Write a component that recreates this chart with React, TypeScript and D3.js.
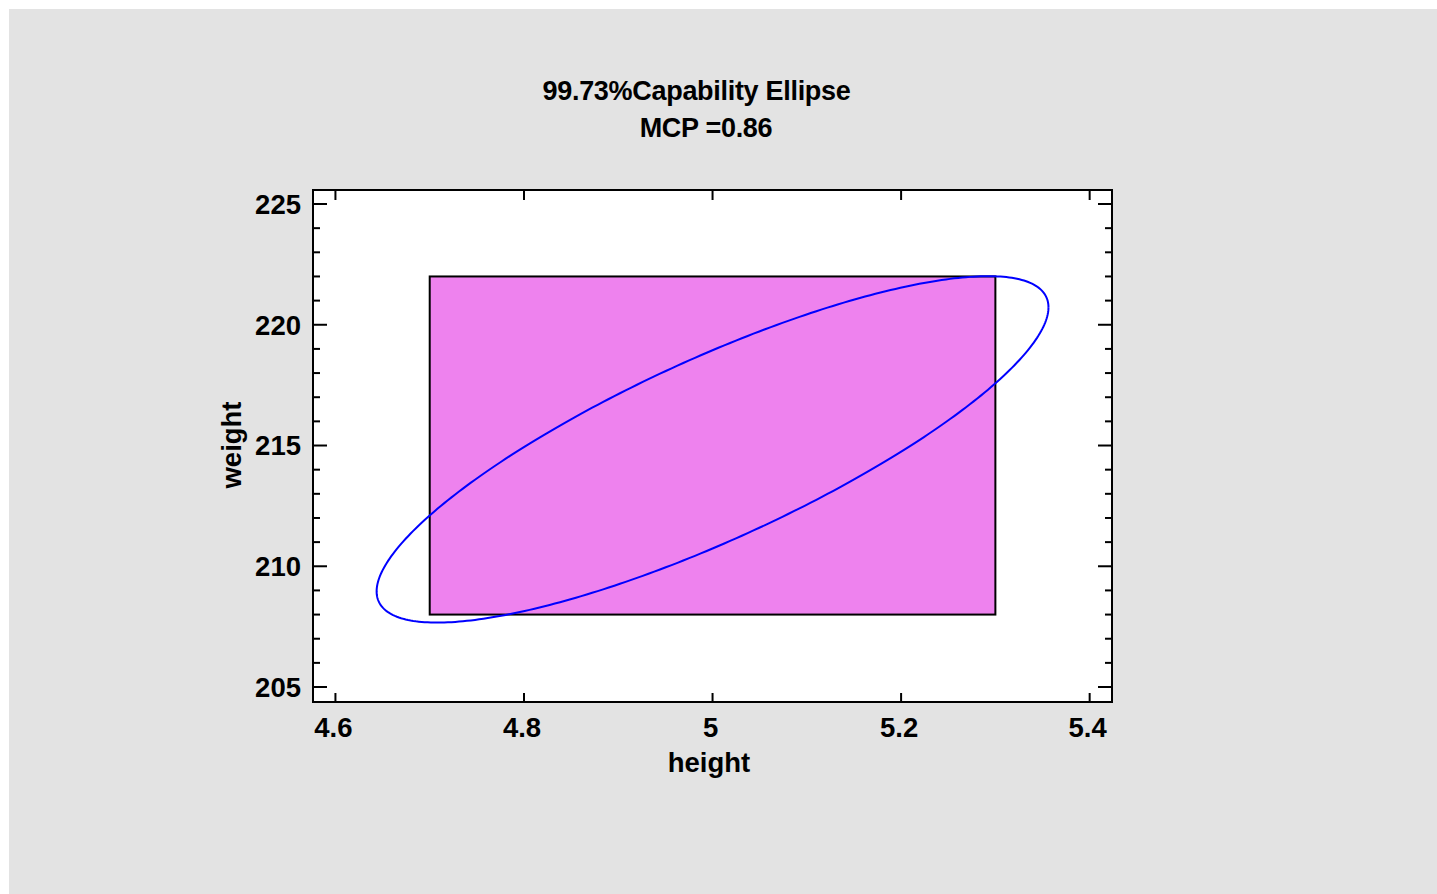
import React from "react";
import * as d3 from "d3";

// ---- data ----
const titleLines = ["99.73%Capability Ellipse", "MCP =0.86"];
const xLabel = "height";
const yLabel = "weight";
const xTicks = [4.6, 4.8, 5.0, 5.2, 5.4];
const xTickLabels = ["4.6", "4.8", "5", "5.2", "5.4"];
const yTicks = [205, 210, 215, 220, 225];
const yTickLabels = ["205", "210", "215", "220", "225"];
const yMinorTicks = [206, 207, 208, 209, 211, 212, 213, 214, 216, 217, 218, 219, 221, 222, 223, 224];
// specification rectangle [LSL, USL] for each variable
const specX = [4.7, 5.3];
const specY = [208, 222];
// fitted bivariate normal (read from the drawn ellipse)
const meanXY = [5.0, 214.84];
const sdXY = [0.1036, 2.085];
const rho = 0.82;
const coverage = 0.9973;

const W = 1428;
const H = 885;
const OX = 9;
const OY = 9;

export default function App() {
  const left = 313 - OX, right = 1112 - OX, top = 190 - OY, bottom = 702 - OY;
  const x = d3.scaleLinear().domain([4.5762, 5.4237]).range([left, right]);
  const y = d3.scaleLinear().domain([204.38, 225.58]).range([bottom, top]);

  // ellipse points
  const c = Math.sqrt(-2 * Math.log(1 - coverage));
  const angles = d3.range(0, 361, 1).map((a) => (a * Math.PI) / 180);
  const pts: [number, number][] = angles.map((t) => {
    const u = Math.cos(t);
    const v = Math.sin(t);
    const zx = u;
    const zy = rho * u + Math.sqrt(1 - rho * rho) * v;
    return [meanXY[0] + c * sdXY[0] * zx, meanXY[1] + c * sdXY[1] * zy];
  });
  const line = d3
    .line<[number, number]>()
    .x((d) => x(d[0]))
    .y((d) => y(d[1]));

  const font = "'Liberation Sans', Arial, Helvetica, sans-serif";
  const fs = 27.5;

  return (
    <svg
      width={W}
      height={H}
      style={{ position: "absolute", left: OX, top: OY, display: "block" }}
      fontFamily={font}
      fontWeight="bold"
    >
      <rect x={0} y={0} width={W} height={H} fill="#e3e3e3" />
      <text x={696.5 - OX} y={99.5 - OY} fontSize={27} textAnchor="middle" fill="#000" letterSpacing={-0.3}>
        {titleLines[0]}
      </text>
      <text x={706 - OX} y={136.5 - OY} fontSize={27} textAnchor="middle" fill="#000" letterSpacing={-0.3}>
        {titleLines[1]}
      </text>

      <rect x={left} y={top} width={right - left} height={bottom - top} fill="#ffffff" />

      {/* spec rectangle */}
      <rect
        x={x(specX[0])}
        y={y(specY[1])}
        width={x(specX[1]) - x(specX[0])}
        height={y(specY[0]) - y(specY[1])}
        fill="#ee82ee"
        stroke="#000"
        strokeWidth={2}
      />

      {/* ellipse */}
      <path d={line(pts) || ""} fill="none" stroke="#0000ff" strokeWidth={2} />

      {/* frame */}
      <rect x={left} y={top} width={right - left} height={bottom - top} fill="none" stroke="#000" strokeWidth={2} />

      {/* y ticks */}
      {yTicks.map((t) => (
        <g key={"y" + t}>
          <line x1={left} x2={left + 14} y1={y(t)} y2={y(t)} stroke="#000" strokeWidth={2} />
          <line x1={right} x2={right - 14} y1={y(t)} y2={y(t)} stroke="#000" strokeWidth={2} />
        </g>
      ))}
      {yMinorTicks.map((t) => (
        <g key={"ym" + t}>
          <line x1={left} x2={left + 7} y1={y(t)} y2={y(t)} stroke="#000" strokeWidth={2} />
          <line x1={right} x2={right - 7} y1={y(t)} y2={y(t)} stroke="#000" strokeWidth={2} />
        </g>
      ))}
      {yTicks.map((t, i) => (
        <text key={"yl" + t} x={301 - OX} y={y(t) + 9.8} fontSize={fs} textAnchor="end" fill="#000">
          {yTickLabels[i]}
        </text>
      ))}

      {/* x ticks */}
      {xTicks.map((t) => (
        <g key={"x" + t}>
          <line x1={x(t)} x2={x(t)} y1={bottom} y2={bottom - 9} stroke="#000" strokeWidth={2} />
          <line x1={x(t)} x2={x(t)} y1={top} y2={top + 10} stroke="#000" strokeWidth={2} />
        </g>
      ))}
      {xTicks.map((t, i) => (
        <text key={"xl" + t} x={x(t) - 2} y={737 - OY} fontSize={fs} textAnchor="middle" fill="#000">
          {xTickLabels[i]}
        </text>
      ))}

      {/* axis titles */}
      <text x={709 - OX} y={772 - OY} fontSize={fs} textAnchor="middle" fill="#000">
        {xLabel}
      </text>
      <text
        transform={`translate(${241 - OX},${445 - OY}) rotate(-90)`}
        fontSize={fs}
        textAnchor="middle"
        fill="#000"
      >
        {yLabel}
      </text>
    </svg>
  );
}
